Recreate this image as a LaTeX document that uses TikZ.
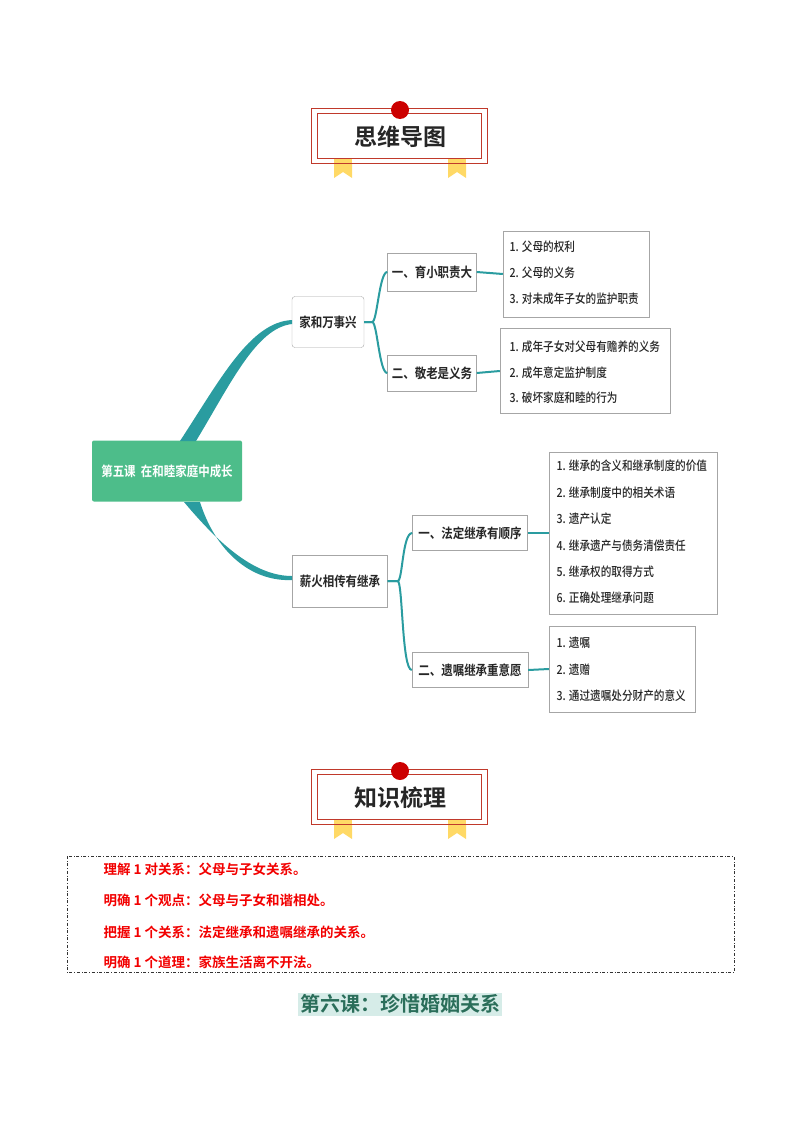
\documentclass[tikz,border=0pt]{standalone}
\usepackage{fontspec}
\setmainfont{Noto Sans CJK SC}
\newfontfamily\cjk[FakeStretch=0.85]{Noto Sans CJK SC Medium}
\newfontfamily\cjkb[FakeStretch=0.85]{Noto Sans CJK SC Bold}
\newfontfamily\cjkbw{Noto Sans CJK SC Bold}
\definecolor{teal1}{HTML}{2A9CA0}
\definecolor{green1}{HTML}{4DBD8A}
\definecolor{red1}{HTML}{C0392B}
\definecolor{rib}{HTML}{FFD966}
\definecolor{dg}{HTML}{2A6E5A}
\definecolor{lt}{HTML}{D6ECE8}
\begin{document}
\begin{tikzpicture}[x=1pt,y=-1pt,
  box/.style={draw=gray!70,fill=white,inner sep=0pt},
  txt/.style={font=\cjk\fontsize{12.5}{14}\selectfont,anchor=west,text=black!85},
  lbl/.style={font=\cjkb\fontsize{13.5}{16}\selectfont,text=black!85},
  con/.style={draw=teal1,line width=2pt},
  red/.style={text=red!95!black,font=\cjkbw\fontsize{13.5}{15}\selectfont,anchor=west}]
\useasboundingbox (0,0) rectangle (800,1132);
% title banners
\foreach \y/\t in {108/思维导图,769/知识梳理}{
  \fill[rib] (334,\y+50) -- (352,\y+50) -- (352,\y+70) -- (343,\y+64) -- (334,\y+70) -- cycle;
  \fill[rib] (448,\y+50) -- (466,\y+50) -- (466,\y+70) -- (457,\y+64) -- (448,\y+70) -- cycle;
  \draw[red1,line width=0.8pt,fill=white] (311,\y) rectangle (487,\y+55);
  \draw[red1,line width=0.6pt] (317,\y+5) rectangle (481,\y+50);
  \fill[rib] (334,\y+51) rectangle (352,\y+55);
  \fill[rib] (448,\y+51) rectangle (466,\y+55);
  \fill[red!80!black] (400,\y+2) circle (9);
  \node[font=\cjkbw\fontsize{23}{26}\selectfont,text=black!85] at (400,\y+29) {\t};
}
% nodes
\node[fill=green1,text=white,rounded corners=2pt,minimum width=150pt,minimum height=61pt,font=\cjkb\fontsize{13.5}{15}\selectfont] (root) at (167,471) {第五课\ \ 在和睦家庭中成长};
\node[box,rounded corners=3pt,minimum width=72pt,minimum height=51pt,lbl] (a) at (328,322) {家和万事兴};
\node[box,minimum width=95pt,minimum height=52pt,lbl] (b) at (340,581) {薪火相传有继承};
\node[box,minimum width=89pt,minimum height=38pt,lbl] (a1) at (432,272) {一、育小职责大};
\node[box,minimum width=89pt,minimum height=36pt,lbl] (a2) at (432,373) {二、敬老是义务};
\node[box,minimum width=115pt,minimum height=35pt,lbl] (b1) at (470,533) {一、法定继承有顺序};
\node[box,minimum width=116pt,minimum height=35pt,lbl] (b2) at (470,670) {二、遗嘱继承重意愿};
\node[box,minimum width=146pt,minimum height=86pt] (l1) at (576,274) {};
\node[box,minimum width=170pt,minimum height=85pt] (l2) at (585,371) {};
\node[box,minimum width=168pt,minimum height=162pt] (l3) at (633,533) {};
\node[box,minimum width=146pt,minimum height=86pt] (l4) at (622,669) {};
% connectors
\fill[teal1] (180,441) .. controls (220,380) and (250,322) .. (292,320) -- (292,324) .. controls (256,328) and (230,385) .. (196,441) -- cycle;
\fill[teal1] (184,502) .. controls (220,545) and (255,576) .. (292,576) -- (292,580) .. controls (250,582) and (215,550) .. (200,502) -- cycle;
\draw[con] (a.east) -- ++(8,0) .. controls +(5,0) and +(-8,0) .. (a1.west);
\draw[con] (a.east) -- ++(8,0) .. controls +(5,0) and +(-8,0) .. (a2.west);
\draw[con] (b.east) -- ++(10,0) .. controls +(5,0) and +(-10,0) .. (b1.west);
\draw[con] (b.east) -- ++(10,0) .. controls +(5,0) and +(-10,0) .. (b2.west);
\draw[con] (a1.east) -- (l1.west);
\draw[con] (a2.east) -- (l2.west);
\draw[con] (b1.east) -- (l3.west);
\draw[con] (b2.east) -- (l4.west);
% list texts
\node[txt] at (506,247) {1. 父母的权利};
\node[txt] at (506,273) {2. 父母的义务};
\node[txt] at (506,299) {3. 对未成年子女的监护职责};
\node[txt] at (506,347) {1. 成年子女对父母有赡养的义务};
\node[txt] at (506,373) {2. 成年意定监护制度};
\node[txt] at (506,398) {3. 破坏家庭和睦的行为};
\node[txt] at (553,466) {1. 继承的含义和继承制度的价值};
\node[txt] at (553,493) {2. 继承制度中的相关术语};
\node[txt] at (553,519) {3. 遗产认定};
\node[txt] at (553,546) {4. 继承遗产与债务清偿责任};
\node[txt] at (553,572) {5. 继承权的取得方式};
\node[txt] at (553,598) {6. 正确处理继承问题};
\node[txt] at (553,643) {1. 遗嘱};
\node[txt] at (553,670) {2. 遗赠};
\node[txt] at (553,696) {3. 通过遗嘱处分财产的意义};
% summary box
\draw[gray!40!black,dash dot,line width=0.8pt] (67,856) rectangle (734,972);
\node[red] (s1) at (100,869) {理解 1 对关系：父母与子女关系。};
\node[red] (s2) at (100,900) {明确 1 个观点：父母与子女和谐相处。};
\node[red] (s3) at (100,932) {把握 1 个关系：法定继承和遗嘱继承的关系。};
\node[red] (s4) at (100,962) {明确 1 个道理：家族生活离不开法。};
\node[fill=lt,text=dg,font=\cjkbw\fontsize{20}{23}\selectfont,inner sep=2pt] (t6) at (400,1004) {第六课：珍惜婚姻关系};
\end{tikzpicture}
\end{document}
